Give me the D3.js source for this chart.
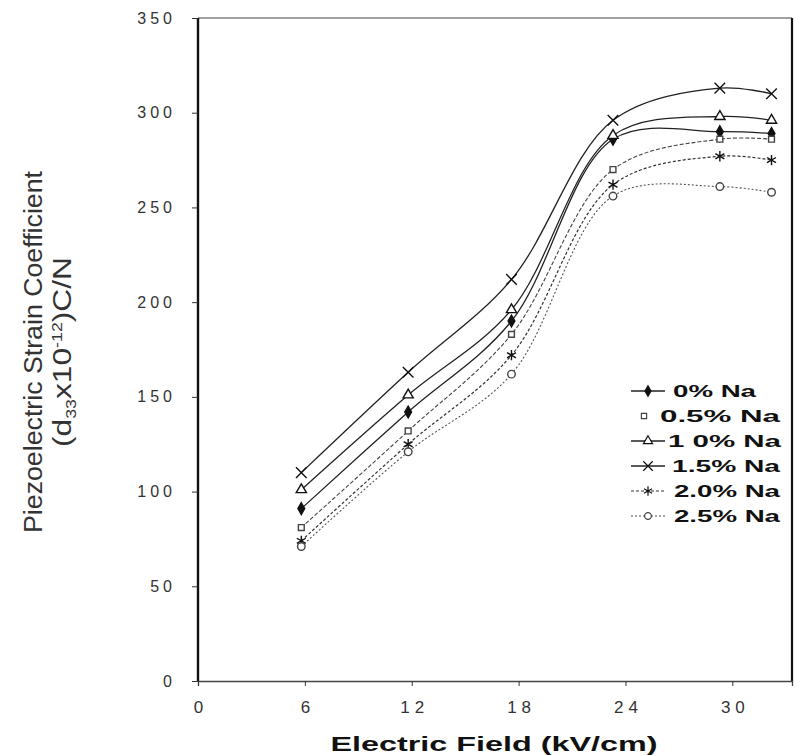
<!DOCTYPE html>
<html>
<head>
<meta charset="utf-8">
<script src="https://cdn.jsdelivr.net/npm/d3@7"></script>
<style>
  html, body { margin: 0; padding: 0; background: #fff; }
  svg { display: block; }
</style>
</head>
<body>
<svg id="chart" width="795" height="755"></svg>
<script>
// ---- data ----
const fieldValues = [5.8, 11.8, 17.6, 23.3, 29.3, 32.2];
const seriesNames = ["0% Na", "0.5% Na", "1 0% Na", "1.5% Na", "2.0% Na", "2.5% Na"];
const na0   = [91, 142, 190, 286, 290, 289];
const na05  = [81, 132, 183, 270, 286, 286];
const na10  = [101, 151, 196, 288, 298, 296];
const na15  = [110, 163, 212, 296, 313, 310];
const na20  = [74, 125, 172, 262, 277, 275];
const na25  = [71, 121, 162, 256, 261, 258];
const xTicks = [0, 6, 12, 18, 24, 30];
const yTicks = [0, 50, 100, 150, 200, 250, 300, 350];

const seriesValues = [na0, na05, na10, na15, na20, na25];

const svg = d3.select("#chart");
const plotL = 198, plotR = 792, plotT = 18, plotB = 681;

const x = d3.scaleLinear().domain([0, 33.35]).range([plotL, plotR]);
const y = d3.scaleLinear().domain([0, 350]).range([plotB, plotT]);

const ink = "#111";
const numFont = "'Liberation Sans', Arial, sans-serif";

// frame
svg.append("line").attr("x1", plotL).attr("x2", plotR).attr("y1", plotT).attr("y2", plotT)
  .attr("stroke", "#444").attr("stroke-width", 1.2);
svg.append("line").attr("x1", plotR).attr("x2", plotR).attr("y1", plotT).attr("y2", plotB)
  .attr("stroke", ink).attr("stroke-width", 2.2);
svg.append("line").attr("x1", plotL).attr("x2", plotL).attr("y1", plotT).attr("y2", plotB)
  .attr("stroke", ink).attr("stroke-width", 2.4);

// y axis
const yAxis = svg.append("g").attr("transform", `translate(${plotL},0)`)
  .call(d3.axisLeft(y).tickValues(yTicks).tickSize(6).tickPadding(16));
yAxis.select(".domain").remove();
yAxis.selectAll("line").attr("stroke", "#333");
yAxis.selectAll("text")
  .attr("font-family", numFont).attr("font-size", 16)
  .attr("letter-spacing", 4).attr("fill", "#333");

// x axis
const xAxis = svg.append("g").attr("transform", `translate(0,${plotB})`)
  .call(d3.axisBottom(x).tickValues(xTicks).tickSize(5).tickPadding(15));
xAxis.select(".domain").attr("stroke", "#444").attr("stroke-width", 1.3);
xAxis.selectAll("line").attr("stroke", "#333");
xAxis.selectAll("text")
  .attr("font-family", numFont).attr("font-size", 17)
  .attr("letter-spacing", 5).attr("dx", 2.5).attr("fill", "#333");

// axis titles
svg.append("text")
  .attr("x", 494).attr("y", 751)
  .attr("text-anchor", "middle")
  .attr("font-family", numFont).attr("font-size", 21).attr("font-weight", "bold")
  .attr("textLength", 327).attr("lengthAdjust", "spacingAndGlyphs")
  .attr("fill", "#111")
  .text("Electric Field (kV/cm)");

const narrow = "'Liberation Sans Narrow', 'Liberation Sans', Arial, sans-serif";
svg.append("text")
  .attr("transform", "translate(42,352) rotate(-90)")
  .attr("text-anchor", "middle")
  .attr("font-family", narrow).attr("font-size", 25)
  .attr("textLength", 362).attr("lengthAdjust", "spacingAndGlyphs")
  .attr("fill", "#333")
  .text("Piezoelectric Strain Coefficient");
const t2 = svg.append("text")
  .attr("transform", "translate(71,352) rotate(-90)")
  .attr("text-anchor", "middle")
  .attr("font-family", narrow).attr("font-size", 25)
  .attr("textLength", 190).attr("lengthAdjust", "spacingAndGlyphs")
  .attr("fill", "#333");
t2.append("tspan").text("(d");
t2.append("tspan").attr("font-size", 14).attr("dy", 5).text("33");
t2.append("tspan").attr("dy", -5).text("x10");
t2.append("tspan").attr("font-size", 14).attr("dy", -9).text("-12");
t2.append("tspan").attr("dy", 9).text(")C/N");

// series styling
const symX = d3.symbolX || d3.symbolCross;
const symAst = d3.symbolAsterisk || d3.symbolStar;
const styles = [
  { sym: d3.symbolDiamond, size: 40, fill: ink, stroke: ink, dash: null, lw: 1.3, lineColor: "#222" },
  { sym: d3.symbolSquare, size: 34, fill: "#fff", stroke: "#444", dash: "4,2", lw: 1.1, lineColor: "#444" },
  { sym: d3.symbolTriangle, size: 45, fill: "#fff", stroke: ink, dash: null, lw: 1.3, lineColor: "#222" },
  { sym: symX, size: 75, fill: "none", stroke: ink, dash: null, lw: 1.3, lineColor: "#222" },
  { sym: symAst, size: 75, fill: ink, stroke: ink, dash: "3,2", lw: 1.2, lineColor: "#333" },
  { sym: d3.symbolCircle, size: 45, fill: "#fff", stroke: "#444", dash: "2,2", lw: 1.1, lineColor: "#555" }
];

const line = d3.line()
  .x(d => x(d[0])).y(d => y(d[1]))
  .curve(d3.curveCatmullRom.alpha(0.5));

seriesValues.forEach((vals, i) => {
  const st = styles[i];
  const pts = fieldValues.map((f, j) => [f, vals[j]]);
  svg.append("path")
    .attr("d", line(pts))
    .attr("fill", "none")
    .attr("stroke", st.lineColor)
    .attr("stroke-width", st.lw)
    .attr("stroke-dasharray", st.dash);
  svg.append("g").selectAll("path").data(pts).join("path")
    .attr("transform", d => `translate(${x(d[0])},${y(d[1])})`)
    .attr("d", d3.symbol().type(st.sym).size(st.size))
    .attr("fill", st.fill)
    .attr("stroke", st.stroke)
    .attr("stroke-width", 1.4);
});

// legend
const legY0 = 391, legDy = 25;
const legTextStart = [673, 660, 668, 672, 674, 674];
const legTextEnd   = [756, 780, 781, 780, 780, 780];
const legend = svg.append("g");
seriesNames.forEach((name, i) => {
  const st = styles[i];
  const gy = legY0 + i * legDy;
  const g = legend.append("g").attr("transform", `translate(0,${gy})`);
  const lx1 = 631, lx2 = 665;
  if (i !== 1) {
    g.append("line").attr("x1", lx1).attr("x2", lx2).attr("y1", 0).attr("y2", 0)
      .attr("stroke", st.lineColor).attr("stroke-width", st.lw)
      .attr("stroke-dasharray", st.dash);
  }
  g.append("path")
    .attr("transform", `translate(${i === 1 ? 644 : 648},0)`)
    .attr("d", d3.symbol().type(st.sym).size(st.size * 0.8))
    .attr("fill", st.fill).attr("stroke", st.stroke).attr("stroke-width", 1.2);
  g.append("text")
    .attr("x", legTextStart[i]).attr("y", 6)
    .attr("font-family", numFont).attr("font-size", 16).attr("font-weight", "bold")
    .attr("textLength", legTextEnd[i] - legTextStart[i]).attr("lengthAdjust", "spacingAndGlyphs")
    .attr("fill", "#111")
    .text(name);
});
</script>
</body>
</html>
